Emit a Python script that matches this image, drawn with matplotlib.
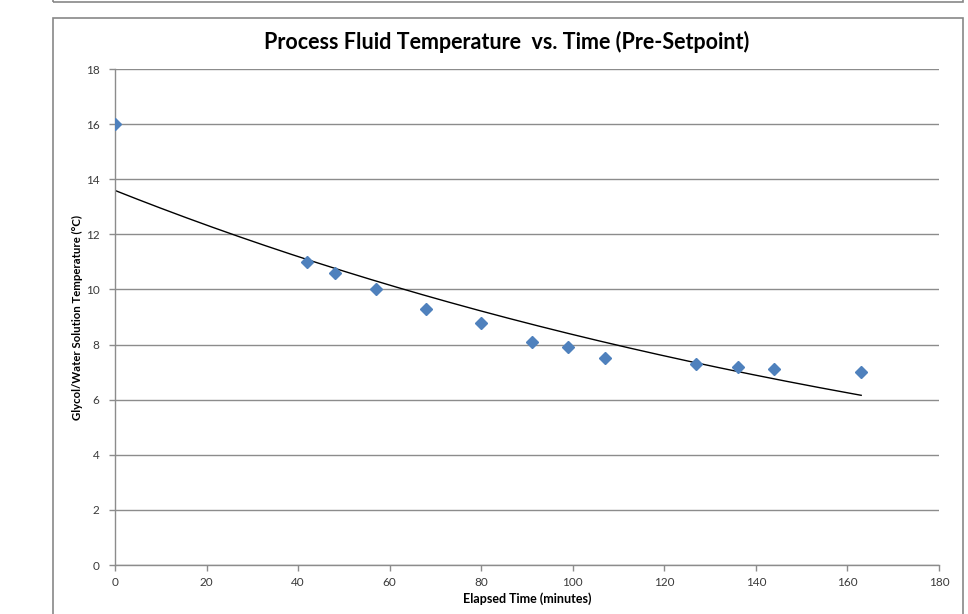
import numpy as np
from matplotlib import pyplot as plt
from matplotlib.patches import Rectangle

# elapsed time (min) and glycol/water temperature (C)
elapsed_min = [0, 42, 48, 57, 68, 80, 91, 99, 107, 127, 136, 144, 163]
temp_c = [16.0, 11.0, 10.6, 10.0, 9.3, 8.8, 8.1, 7.9, 7.5, 7.3, 7.2, 7.1, 7.0]

x_ticks = [0, 20, 40, 60, 80, 100, 120, 140, 160, 180]
y_ticks = [0, 2, 4, 6, 8, 10, 12, 14, 16, 18]

plt.rcParams['font.family'] = ['Lato', 'DejaVu Sans']

fig = plt.figure(figsize=(9.68, 6.14), dpi=100)
W, H = 968, 614

# chart frames (excel style)
fig.add_artist(Rectangle((53 / W, -0.01), 910 / W, 1 - 18 / H + 0.01,
                         transform=fig.transFigure, fill=False,
                         edgecolor='#878787', linewidth=1.2))
fig.add_artist(Rectangle((53 / W, 1 - 2 / H), 910 / W, 0.05,
                         transform=fig.transFigure, fill=False,
                         edgecolor='#878787', linewidth=1.2))

ax = fig.add_axes([115 / W, 1 - 565 / H, 824 / W, 496 / H])

x = np.array(elapsed_min, dtype=float)
y = np.array(temp_c, dtype=float)

# exponential trendline, fitted like excel does (least squares on log y)
b, ln_a = np.polyfit(x, np.log(y), 1)
xs = np.linspace(x.min(), x.max(), 200)
ax.plot(xs, np.exp(ln_a) * np.exp(b * xs), color='black', linewidth=1.0,
        zorder=2)

ax.plot(x, y, linestyle='none', marker='D', markersize=6,
        color='#4F81BD', markeredgecolor='#4F81BD', zorder=3)

ax.set_xlim(0, 180)
ax.set_ylim(0, 18)
ax.set_xticks(x_ticks)
ax.set_yticks(y_ticks)
ax.grid(axis='y', color='#8c8c8c', linewidth=1.0)
ax.set_axisbelow(True)

for side in ['top', 'right']:
    ax.spines[side].set_visible(False)
for side in ['left', 'bottom']:
    ax.spines[side].set_color('#8c8c8c')
    ax.spines[side].set_linewidth(1.0)

ax.tick_params(axis='both', colors='#8c8c8c', labelcolor='#3a3a3a',
               labelsize=8.5, length=4, width=1.0)
ax.tick_params(axis='x', pad=5)
ax.tick_params(axis='y', pad=7)

ax.set_xlabel('Elapsed Time (minutes)', fontsize=9, fontweight='bold',
              labelpad=3)
ax.set_ylabel('Glycol/Water Solution Temperature (\u00b0C)', fontsize=8.2,
              fontweight='bold', labelpad=2)

fig.text(507 / W, 1 - 42 / H, 'Process Fluid Temperature  vs. Time (Pre-Setpoint)',
         ha='center', va='center', fontsize=15.5, fontweight='bold')

fig.savefig('out.png', dpi=100)
